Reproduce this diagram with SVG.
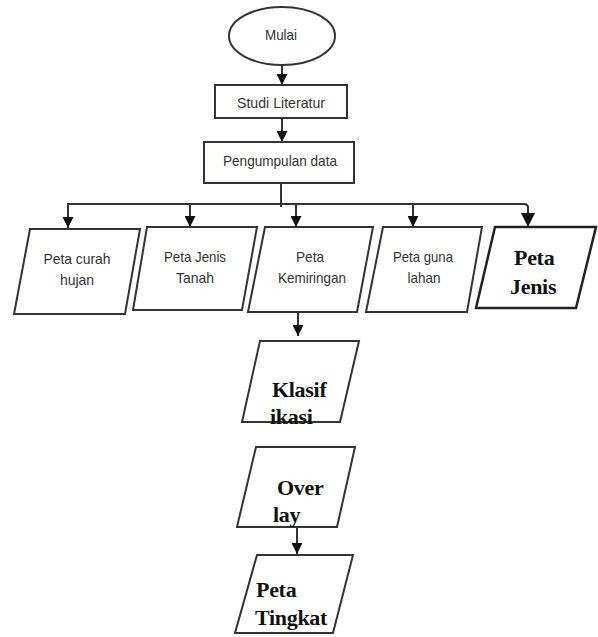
<svg xmlns="http://www.w3.org/2000/svg" width="598" height="637" viewBox="0 0 598 637">
<style>
.sh{fill:#fff;stroke:#333;stroke-width:2}
.sh2{fill:#fff;stroke:#222;stroke-width:2.5}
.ln{fill:none;stroke:#333;stroke-width:2}
.t{font-family:"Liberation Sans",Arial,sans-serif;font-size:15px;fill:#333;text-anchor:middle}
.b{font-family:"Liberation Serif","Times New Roman",serif;font-size:22px;font-weight:bold;fill:#111;letter-spacing:-0.3px}
</style>
<defs>
<marker id="ah" viewBox="0 0 10 10" refX="10" refY="5" markerWidth="5.5" markerHeight="5.5" orient="auto" markerUnits="strokeWidth">
<path d="M0,0 L10,5 L0,10 Z" fill="#111"/>
</marker>
<marker id="ah2" viewBox="0 0 10 10" refX="10" refY="5" markerWidth="7" markerHeight="7" orient="auto" markerUnits="strokeWidth">
<path d="M0,0 L10,5 L0,10 Z" fill="#111"/>
</marker>
</defs>
<g id="connectors">
<line class="ln" x1="282" y1="65" x2="282" y2="85" marker-end="url(#ah)"/>
<line class="ln" x1="282" y1="118" x2="282" y2="142" marker-end="url(#ah)"/>
<line class="ln" x1="281" y1="183" x2="281" y2="207"/>
<path class="ln" d="M68,228 V204 H524 Q528,204 528,208"/>
<line class="ln" x1="68" y1="204" x2="68" y2="228" marker-end="url(#ah)"/>
<line class="ln" x1="190" y1="204" x2="190" y2="227" marker-end="url(#ah)"/>
<line class="ln" x1="296" y1="204" x2="296" y2="227" marker-end="url(#ah)"/>
<line class="ln" x1="413" y1="204" x2="413" y2="227" marker-end="url(#ah)"/>
<line class="ln" x1="528" y1="206" x2="528" y2="227" marker-end="url(#ah2)"/>
<line class="ln" x1="298" y1="312" x2="298" y2="336" marker-end="url(#ah)"/>
<line class="ln" x1="297" y1="520" x2="297" y2="554" marker-end="url(#ah)"/>
</g>
<g id="mulai">
<ellipse class="sh" cx="282" cy="36" rx="53" ry="29"/>
<text class="t" x="281" y="40" textLength="32" lengthAdjust="spacingAndGlyphs">Mulai</text>
</g>
<g id="studi">
<rect class="sh" x="215" y="85" width="132" height="33"/>
<text class="t" x="281" y="108" textLength="88" lengthAdjust="spacingAndGlyphs">Studi Literatur</text>
</g>
<g id="pengumpulan">
<rect class="sh" x="204" y="142" width="150" height="41"/>
<text class="t" x="280" y="166" textLength="114" lengthAdjust="spacingAndGlyphs">Pengumpulan data</text>
</g>
<g id="curah">
<polygon class="sh" points="30,229 140,229 125,314 14,314"/>
<text class="t" x="77" y="264" textLength="67" lengthAdjust="spacingAndGlyphs">Peta curah</text>
<text class="t" x="77" y="285" textLength="34" lengthAdjust="spacingAndGlyphs">hujan</text>
</g>
<g id="jenis-tanah">
<polygon class="sh" points="147,227 257,227 242,310 133,310"/>
<text class="t" x="195" y="262" textLength="62" lengthAdjust="spacingAndGlyphs">Peta Jenis</text>
<text class="t" x="195" y="283" textLength="38" lengthAdjust="spacingAndGlyphs">Tanah</text>
</g>
<g id="kemiringan">
<polygon class="sh" points="265,227 373,227 357,312 248,312"/>
<text class="t" x="310" y="262" textLength="28" lengthAdjust="spacingAndGlyphs">Peta</text>
<text class="t" x="312" y="283" textLength="68" lengthAdjust="spacingAndGlyphs">Kemiringan</text>
</g>
<g id="guna-lahan">
<polygon class="sh" points="383,227 482,227 467,312 366,312"/>
<text class="t" x="423" y="262" textLength="60" lengthAdjust="spacingAndGlyphs">Peta guna</text>
<text class="t" x="424" y="283" textLength="33" lengthAdjust="spacingAndGlyphs">lahan</text>
</g>
<g id="peta-jenis">
<polygon class="sh2" points="495,227 596,227 576,308 476,308"/>
<text class="b" x="514" y="265">Peta</text>
<text class="b" x="510" y="294">Jenis</text>
</g>
<g id="klasifikasi">
<polygon class="sh" points="260,341 359,341 340,422 242,422"/>
<text class="b" x="272" y="397">Klasif</text>
<text class="b" x="270" y="424">ikasi</text>
</g>
<g id="overlay">
<polygon class="sh" points="256,447 355,447 337,527 237,527"/>
<text class="b" x="277" y="495">Over</text>
<text class="b" x="273" y="522">lay</text>
</g>
<g id="peta-tingkat">
<polygon class="sh" points="257,555 353,555 333,633 235,633"/>
<text class="b" x="256" y="597">Peta</text>
<text class="b" x="255" y="625">Tingkat</text>
</g>
</svg>
